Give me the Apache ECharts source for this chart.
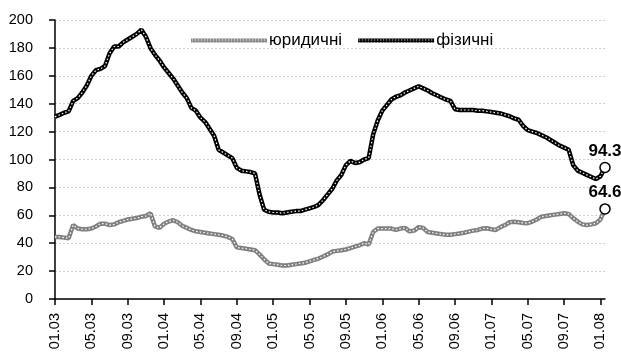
<!DOCTYPE html>
<html>
<head>
<meta charset="utf-8">
<script src="https://cdn.jsdelivr.net/npm/echarts@6/dist/echarts.min.js"></script>
<style>
  html, body { margin: 0; padding: 0; background: #fff; }
  #chart { width: 621px; height: 361px; }
</style>
</head>
<body>
<div id="chart"></div>
<script>
// Half-month observation slots, Jan 2003 .. mid Jan 2008
const categories = [];
for (let y = 2003; y <= 2008; y++) {
  for (let m = 1; m <= 12; m++) {
    if (y === 2008 && m > 1) break;
    const mm = String(m).padStart(2, '0');
    categories.push(y + '-' + mm + '-01', y + '-' + mm + '-16');
  }
}

// Tick labels (every four months)
const tickLabels = ['01.03','05.03','09.03','01.04','05.04','09.04','01.05','05.05',
  '09.05','01.06','05.06','09.06','01.07','05.07','09.07','01.08'];

// юридичні
const legalValues = [
  44.5, 44.5, 44, 43.5, 53, 50.5, 50, 50, 50.5, 52,
  54, 54, 53, 53.5, 55, 56, 57, 57.5, 58, 59,
  59.5, 61.5, 52, 51, 54, 55.5, 56.5, 55, 52.5, 51,
  49.5, 48.5, 48, 47.5, 47, 46.5, 46, 45.5, 44.5, 43,
  37, 36.5, 36, 35.5, 35, 32, 28.5, 25.5, 25, 24.5,
  24, 24, 24.5, 25, 25.5, 26, 27, 28, 29, 30.5,
  32, 34, 34.5, 35, 35.5, 36.5, 37.5, 38.5, 40, 39,
  48, 50.5, 50.5, 50.5, 50.5, 49.5, 50.5, 51, 48.5, 49,
  51.5, 51, 48, 47.5, 47, 46.5, 46, 46, 46.5, 47,
  47.5, 48.3, 49, 49.5, 50.5, 50.7, 50, 49.5, 51.5, 53,
  55, 55.4, 55, 54.5, 54.3, 55.5, 57, 59, 59.5, 60,
  60.5, 61, 61.4, 61, 58, 55.5, 53.5, 53, 53.5, 54.3,
  57, 64.6
];

// фізичні
const privateValues = [
  130.7, 132, 133.5, 134.5, 142, 144, 148, 153, 160, 164,
  165, 167, 176, 181, 181, 184, 186, 188, 190, 193,
  188, 180, 175, 171, 166, 162, 158, 153, 148, 144,
  137, 135, 130, 127, 122, 117, 107, 105, 103, 101,
  94, 92, 91.5, 91, 90, 75, 64, 62.5, 62, 62,
  61.5, 62, 62.5, 63, 63, 64, 65, 66, 67.5, 71,
  75, 79, 85, 89, 96, 99, 97.5, 98, 100, 101,
  118, 128, 135, 139, 143, 145, 146, 148, 149.5, 151,
  152.5, 151, 149.5, 147.5, 146, 144.5, 143, 142, 136, 135.5,
  135.5, 135.5, 135.5, 135, 135, 134.5, 134, 133.5, 133, 132,
  131, 129.5, 128.5, 124, 121, 120, 119, 117.5, 116, 114,
  112, 110, 108.5, 107, 96, 92, 90.5, 89, 87.5, 86,
  88, 94.3
];

const seriesNames = ['юридичні', 'фізичні'];
const FONT = '"Liberation Sans", Arial, sans-serif';

// small repeating swatch used for the legend line samples
function swatch(base) {
  const c = document.createElement('canvas');
  c.width = 3; c.height = 3;
  const g = c.getContext('2d');
  g.fillStyle = base; g.fillRect(0, 0, 3, 3);
  g.fillStyle = '#ffffff'; g.fillRect(1, 1, 1, 1);
  return { image: c, repeat: 'repeat' };
}

const lastIdx = categories.length - 1;
const endPoint = arr => arr.map((v, i) => (i === lastIdx ? v : null));

function texturedLine(name, data, base) {
  return [
    {
      name: name, type: 'line', data: data, symbol: 'none', z: 2,
      lineStyle: { color: base, width: 4.5 }, itemStyle: { color: base }
    },
    {
      name: name + '_tex', type: 'line', data: data, symbol: 'none', z: 3,
      silent: true,
      lineStyle: { color: '#ffffff', width: 1.2, type: [1.5, 2.2] }
    }
  ];
}

function endMarker(name, data) {
  return {
    name: name + '_end', type: 'line', data: endPoint(data), z: 5,
    symbol: 'circle', symbolSize: 10, showSymbol: true, showAllSymbol: true,
    lineStyle: { width: 0 },
    itemStyle: { color: '#ffffff', borderColor: '#000000', borderWidth: 1.5 },
    label: {
      show: true, position: 'top', distance: 2,
      fontFamily: FONT, fontSize: 17, fontWeight: 'bold', color: '#000',
      formatter: p => p.value.toFixed(1)
    }
  };
}

const chart = echarts.init(document.getElementById('chart'), null, { renderer: 'canvas' });
chart.setOption({
  animation: false,
  backgroundColor: '#ffffff',
  grid: { left: 55, right: 16, top: 20, bottom: 62 },
  legend: {
    left: 186, top: 27,
    itemWidth: 76, itemHeight: 4, itemGap: 16,
    textStyle: { fontFamily: FONT, fontSize: 17, color: '#000', padding: [0, 0, 0, -3] },
    data: [
      { name: seriesNames[0], icon: 'rect', itemStyle: { color: swatch('#8a8a8a') } },
      { name: seriesNames[1], icon: 'rect', itemStyle: { color: swatch('#000000') } }
    ]
  },
  xAxis: {
    type: 'category', data: categories, boundaryGap: false,
    axisLine: { lineStyle: { color: '#000', width: 1.5 } },
    axisTick: { length: 6, lineStyle: { color: '#000', width: 1.5 },
      interval: i => i % 8 === 0 },
    axisLabel: {
      interval: i => i % 8 === 0, rotate: 90, margin: 14,
      fontFamily: FONT, fontSize: 14.5, color: '#000',
      formatter: (v, i) => tickLabels[i / 8]
    },
    splitLine: { show: false }
  },
  yAxis: {
    type: 'value', min: 0, max: 200, interval: 20,
    axisLine: { show: true, lineStyle: { color: '#000', width: 1.5 } },
    axisTick: { show: true, length: 6, lineStyle: { color: '#000', width: 1.5 } },
    axisLabel: { margin: 22, fontFamily: FONT, fontSize: 14.5, color: '#000' },
    splitLine: { show: true, lineStyle: { color: '#cfcfcf', width: 1, type: [2, 2] } }
  },
  series: [
    ...texturedLine(seriesNames[0], legalValues, '#808080'),
    ...texturedLine(seriesNames[1], privateValues, '#000000'),
    endMarker(seriesNames[0], legalValues),
    endMarker(seriesNames[1], privateValues)
  ]
});
</script>
</body>
</html>
